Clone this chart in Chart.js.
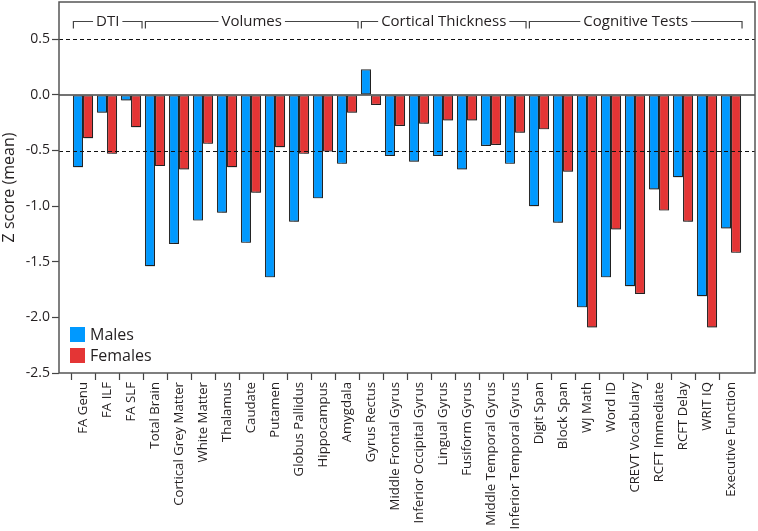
<!DOCTYPE html>
<html>
<head>
<meta charset="utf-8">
<script src="https://cdn.jsdelivr.net/npm/chart.js@4/dist/chart.umd.min.js"></script>
<style>
  body { margin: 0; background: #fff; }
  #wrap { width: 758px; height: 531px; position: relative; }
</style>
</head>
<body>
<div id="wrap"><canvas id="zChart"></canvas></div>
<script>
const categories = [
  'FA Genu', 'FA ILF', 'FA SLF',
  'Total Brain', 'Cortical Grey Matter', 'White Matter', 'Thalamus', 'Caudate',
  'Putamen', 'Globus Pallidus', 'Hippocampus', 'Amygdala',
  'Gyrus Rectus', 'Middle Frontal Gyrus', 'Inferior Occipital Gyrus', 'Lingual Gyrus',
  'Fusiform Gyrus', 'Middle Temporal Gyrus', 'Inferior Temporal Gyrus',
  'Digit Span', 'Block Span', 'WJ Math', 'Word ID', 'CREVT Vocabulary',
  'RCFT Immediate', 'RCFT Delay', 'WRIT IQ', 'Executive Function'
];
const males = [
  -0.65, -0.16, -0.05,
  -1.54, -1.34, -1.13, -1.06, -1.33, -1.64, -1.14, -0.93, -0.62,
  0.23, -0.55, -0.60, -0.55, -0.67, -0.46, -0.62,
  -1.00, -1.15, -1.91, -1.64, -1.72, -0.85, -0.74, -1.81, -1.20
];
const females = [
  -0.39, -0.53, -0.29,
  -0.64, -0.67, -0.44, -0.65, -0.88, -0.47, -0.53, -0.51, -0.16,
  -0.09, -0.28, -0.26, -0.23, -0.23, -0.45, -0.34,
  -0.31, -0.69, -2.09, -1.21, -1.79, -1.04, -1.14, -2.09, -1.42
];
const yTicks = [-2.5, -2.0, -1.5, -1.0, -0.5, 0.0, 0.5];
const refLines = [0.5, -0.5];
const groups = ['DTI', 'Volumes', 'Cortical Thickness', 'Cognitive Tests'];
const groupFirst = [0, 3, 12, 19];
const groupLast = [2, 11, 18, 27];

const FONT = '"Open Sans", "Noto Sans", sans-serif';
const INK = '#231f20';

// blank slot at each end gives the wide margin inside the frame
const labels = [''].concat(categories, ['']);
const pad = arr => [null].concat(arr, [null]);

// stop Chart.js from reserving extra room for edge tick labels
function noEdgePadding(s) {
  s.paddingTop = 0;
  s.paddingBottom = 0;
  s.paddingLeft = 0;
  s.paddingRight = 0;
}

const overlay = {
  id: 'overlay',
  beforeDatasetsDraw(chart) {
    // soft drop shadow under the bars
    const ctx = chart.ctx;
    ctx.save();
    ctx.shadowColor = 'rgba(0,0,0,0.3)';
    ctx.shadowOffsetX = 1;
    ctx.shadowOffsetY = 1;
    ctx.shadowBlur = 1;
  },
  afterDatasetsDraw(chart) {
    const { ctx, chartArea: a, scales: { x, y } } = chart;
    ctx.restore();
    ctx.save();
    // zero line
    ctx.strokeStyle = '#444';
    ctx.lineWidth = 1.5;
    ctx.beginPath();
    ctx.moveTo(a.left, y.getPixelForValue(0));
    ctx.lineTo(a.right, y.getPixelForValue(0));
    ctx.stroke();
    // dashed reference lines
    ctx.strokeStyle = '#111';
    ctx.lineWidth = 1;
    ctx.setLineDash([4, 3]);
    refLines.forEach(v => {
      const py = Math.round(y.getPixelForValue(v)) + 0.5;
      ctx.beginPath();
      ctx.moveTo(a.left, py);
      ctx.lineTo(a.right, py);
      ctx.stroke();
    });
    ctx.setLineDash([]);
    // frame
    ctx.strokeStyle = '#555';
    ctx.lineWidth = 1.5;
    ctx.strokeRect(a.left, a.top, a.right - a.left, a.bottom - a.top);

    // group brackets
    const px = i => x.getPixelForValue(i + 1);
    const w = px(1) - px(0);
    const ly = a.top + 19.5;
    ctx.font = '15px ' + FONT;
    ctx.textAlign = 'center';
    ctx.textBaseline = 'middle';
    ctx.strokeStyle = '#444';
    ctx.lineWidth = 1.2;
    groups.forEach((g, k) => {
      const x1 = px(groupFirst[k]) - 0.4 * w;
      const x2 = px(groupLast[k]) + 0.46 * w;
      const cx = (x1 + x2) / 2;
      const tw = ctx.measureText(g).width;
      ctx.beginPath();
      ctx.moveTo(x1, ly + 7);
      ctx.lineTo(x1, ly);
      ctx.lineTo(cx - tw / 2 - 3, ly);
      ctx.moveTo(cx + tw / 2 + 3, ly);
      ctx.lineTo(x2, ly);
      ctx.lineTo(x2, ly + 7);
      ctx.stroke();
      ctx.fillStyle = INK;
      ctx.fillText(g, cx, ly);
    });

    // legend inside the plot
    ctx.font = '16px ' + FONT;
    ctx.textAlign = 'left';
    chart.data.datasets.forEach((ds, k) => {
      const top = a.bottom - 46 + k * 21;
      ctx.fillStyle = ds.backgroundColor;
      ctx.fillRect(a.left + 11, top, 15, 15);
      ctx.fillStyle = INK;
      ctx.fillText(ds.label, a.left + 31, top + 8);
    });
    ctx.restore();
  }
};

new Chart(document.getElementById('zChart'), {
  type: 'bar',
  data: {
    labels: labels,
    datasets: [
      {
        label: 'Males',
        data: pad(males),
        backgroundColor: '#0099ff',
        borderColor: '#2b2b2b',
        borderWidth: 1.2,
        borderSkipped: false
      },
      {
        label: 'Females',
        data: pad(females),
        backgroundColor: '#e43535',
        borderColor: '#2b2b2b',
        borderWidth: 1.2,
        borderSkipped: false
      }
    ]
  },
  options: {
    responsive: true,
    maintainAspectRatio: false,
    animation: false,
    layout: { padding: { top: 2, right: 3, left: 0, bottom: 0 } },
    datasets: { bar: { categoryPercentage: 0.84, barPercentage: 1.0 } },
    plugins: { legend: { display: false }, tooltip: { enabled: false } },
    scales: {
      x: {
        offset: false,
        grid: {
          drawOnChartArea: false,
          tickLength: 7,
          tickWidth: 1.2,
          tickColor: c => (c.tick && c.tick.label === '') ? 'rgba(0,0,0,0)' : '#444'
        },
        border: { display: false },
        ticks: {
          autoSkip: false,
          minRotation: 90,
          maxRotation: 90,
          padding: 2,
          color: INK,
          font: { family: FONT, size: 13.2 }
        },
        afterFit: s => { s.height = 158; noEdgePadding(s); }
      },
      y: {
        min: -2.5,
        max: 0.835,
        afterBuildTicks: s => { s.ticks = yTicks.map(v => ({ value: v })); },
        grid: {
          drawOnChartArea: false,
          tickLength: 7,
          tickWidth: 1.2,
          tickColor: '#444'
        },
        border: { display: false },
        ticks: {
          padding: 2,
          color: INK,
          font: { family: FONT, size: 14 },
          callback: v => v.toFixed(1)
        },
        title: {
          display: true,
          text: 'Z score (mean)',
          color: INK,
          font: { family: FONT, size: 16 },
          padding: { top: 0, bottom: 0 }
        },
        afterFit: s => { s.width = 59; noEdgePadding(s); }
      }
    }
  },
  plugins: [overlay]
});
</script>
</body>
</html>
